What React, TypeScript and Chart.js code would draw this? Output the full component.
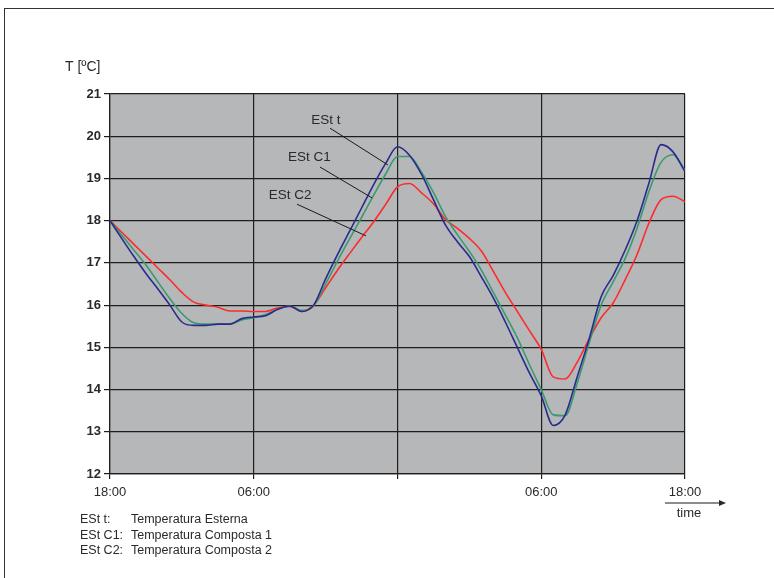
import React, { useEffect, useRef } from "react";
import { Chart, registerables } from "chart.js";

Chart.register(...registerables);

// hours since the first 18:00
const hours = [
  0, 1, 2, 3, 4, 5, 6, 7, 8, 9, 10, 11, 12, 13, 14, 15, 16, 17, 18, 19, 20, 21, 22, 23, 24,
  25, 26, 27, 28, 29, 30, 31, 32, 33, 34, 35, 36, 37, 38, 39, 40, 41, 42, 43, 44, 45, 46, 47, 48,
];

const estT = [
  18.0, 17.57, 17.15, 16.75, 16.38, 16.0, 15.6, 15.52, 15.52, 15.55, 15.55, 15.68, 15.72, 15.75,
  15.9, 15.98, 15.85, 16.0, 16.62, 17.2, 17.75, 18.3, 18.85, 19.35, 19.75, 19.55, 19.1, 18.5,
  17.9, 17.5, 17.15, 16.67, 16.17, 15.6, 15.0, 14.4, 13.85, 13.15, 13.4, 14.3, 15.2, 16.2, 16.7,
  17.3, 18.0, 18.9, 19.8, 19.63, 19.16,
];

const estC1 = [
  18.0, 17.65, 17.3, 16.95, 16.55, 16.15, 15.8, 15.58, 15.55, 15.55, 15.55, 15.65, 15.7, 15.78,
  15.9, 15.98, 15.87, 15.98, 16.5, 17.05, 17.57, 18.08, 18.6, 19.1, 19.52, 19.52, 19.15, 18.67,
  18.1, 17.67, 17.27, 16.83, 16.3, 15.77, 15.23, 14.6, 14.0, 13.4, 13.38, 14.15, 15.1, 16.0,
  16.55, 17.1, 17.82, 18.7, 19.38, 19.56, 19.2,
];

const estC2 = [
  18.0, 17.72, 17.44, 17.16, 16.88, 16.6, 16.3, 16.07, 16.0, 15.95, 15.86, 15.86, 15.85, 15.85,
  15.93, 15.97, 15.85, 16.0, 16.41, 16.83, 17.22, 17.6, 17.97, 18.38, 18.8, 18.88, 18.66, 18.4,
  18.03, 17.82, 17.58, 17.28, 16.8, 16.3, 15.85, 15.4, 14.95, 14.3, 14.25, 14.65, 15.2, 15.7,
  16.05, 16.6, 17.2, 17.95, 18.5, 18.58, 18.45,
];

const xTickValues = [0, 12, 24, 36, 48];
const xTickLabels = ["18:00", "06:00", "", "06:00", "18:00"];

const seriesNames = ["ESt t", "ESt C1", "ESt C2"];
const legendKeys = ["ESt t:", "ESt C1:", "ESt C2:"];
const legendTexts = ["Temperatura Esterna", "Temperatura Composta 1", "Temperatura Composta 2"];

// annotation anchors in data units: [textX, textY, lineX1, lineY1, lineX2, lineY2]
const annotAnchors = [
  [18.03, 20.38, 18.37, 20.19, 23.2, 19.32],
  [16.65, 19.51, 17.53, 19.27, 21.87, 18.54],
  [15.03, 18.61, 15.61, 18.39, 21.37, 17.64],
];

const FONT = "'Liberation Sans', Arial, sans-serif";

const overlay = {
  id: "overlay",
  beforeDraw(chart: any) {
    const { ctx, chartArea: a } = chart;
    ctx.save();
    ctx.fillStyle = "#b5b7b9";
    ctx.fillRect(a.left, a.top, a.right - a.left, a.bottom - a.top);
    ctx.restore();
  },
  afterDraw(chart: any) {
    const { ctx, chartArea: a } = chart;
    const xs = chart.scales.x;
    const ys = chart.scales.y;
    ctx.save();
    ctx.fillStyle = "#2a2a2a";
    ctx.textBaseline = "middle";

    // y-axis title
    ctx.font = `14px ${FONT}`;
    ctx.textAlign = "left";
    ctx.fillText("T [ºC]", a.left - 45, a.top - 27);

    // annotations
    ctx.font = `13.5px ${FONT}`;
    ctx.textAlign = "center";
    ctx.strokeStyle = "#1a1a1a";
    ctx.lineWidth = 1;
    annotAnchors.forEach((p, i) => {
      ctx.fillText(seriesNames[i], xs.getPixelForValue(p[0]), ys.getPixelForValue(p[1]));
      ctx.beginPath();
      ctx.moveTo(xs.getPixelForValue(p[2]), ys.getPixelForValue(p[3]));
      ctx.lineTo(xs.getPixelForValue(p[4]), ys.getPixelForValue(p[5]));
      ctx.stroke();
    });

    // time arrow
    const ay = a.bottom + 29;
    ctx.beginPath();
    ctx.moveTo(a.right - 20, ay);
    ctx.lineTo(a.right + 36, ay);
    ctx.stroke();
    ctx.beginPath();
    ctx.moveTo(a.right + 41, ay);
    ctx.lineTo(a.right + 34, ay - 3);
    ctx.lineTo(a.right + 34, ay + 3);
    ctx.closePath();
    ctx.fill();
    ctx.font = `13px ${FONT}`;
    ctx.fillText("time", a.right + 4, ay + 10);

    // legend
    ctx.font = `12.5px ${FONT}`;
    ctx.textAlign = "left";
    legendKeys.forEach((k, i) => {
      const yy = a.bottom + 46 + i * 15.5;
      ctx.fillText(k, a.left - 30, yy);
      ctx.fillText(legendTexts[i], a.left + 21, yy);
    });
    ctx.restore();
  },
};

function toPoints(vals: number[]) {
  return vals.map((v, i) => ({ x: hours[i], y: v }));
}

export default function App() {
  const ref = useRef<HTMLCanvasElement | null>(null);
  useEffect(() => {
    const canvas = ref.current;
    if (!canvas) return;
    const chart = new Chart(canvas, {
      type: "line",
      data: {
        datasets: [
          { label: seriesNames[0], data: toPoints(estT), borderColor: "#2a2a8e", borderWidth: 1.6 },
          { label: seriesNames[1], data: toPoints(estC1), borderColor: "#3a9a6e", borderWidth: 1.6 },
          { label: seriesNames[2], data: toPoints(estC2), borderColor: "#ff2a2a", borderWidth: 1.6 },
        ],
      },
      options: {
        responsive: false,
        animation: false,
        devicePixelRatio: 1,
        layout: { padding: { left: 70, top: 94, right: 89, bottom: 74 } },
        elements: { point: { radius: 0 }, line: { cubicInterpolationMode: "monotone" } },
        plugins: { legend: { display: false }, tooltip: { enabled: false } },
        scales: {
          x: {
            type: "linear",
            min: 0,
            max: 48,
            afterFit: (s: any) => {
              s.height = 30;
            },
            afterBuildTicks: (s: any) => {
              s.ticks = xTickValues.map((v) => ({ value: v }));
            },
            ticks: {
              autoSkip: false,
              maxRotation: 0,
              padding: 6,
              color: "#2a2a2a",
              font: { family: FONT, size: 13 },
              callback: (v: any) => {
                const i = xTickValues.indexOf(Number(v));
                return i >= 0 ? xTickLabels[i] : "";
              },
            },
            grid: { color: "#1e1e1e", lineWidth: 1.2, tickLength: 5, drawTicks: true },
            border: { color: "#1e1e1e", width: 1.2 },
          },
          y: {
            min: 12,
            max: 21,
            afterFit: (s: any) => {
              s.width = 40;
            },
            ticks: {
              stepSize: 1,
              padding: 3,
              color: "#2a2a2a",
              font: { family: FONT, size: 13, weight: "bold" },
            },
            grid: { color: "#1e1e1e", lineWidth: 1.2, tickLength: 6 },
            border: { color: "#1e1e1e", width: 1.2 },
          },
        },
      },
      plugins: [overlay],
    });
    return () => chart.destroy();
  }, []);

  return (
    <div
      style={{
        position: "fixed",
        left: 0,
        top: 0,
        width: 774,
        height: 578,
        background: "#fff",
        overflow: "hidden",
      }}
    >
      <canvas ref={ref} width={774} height={578} style={{ position: "absolute", left: 0, top: 0 }} />
      <div
        style={{
          position: "absolute",
          left: 4,
          top: 8,
          width: 800,
          height: 600,
          borderTop: "1.5px solid #333",
          borderLeft: "1.5px solid #333",
        }}
      />
    </div>
  );
}
